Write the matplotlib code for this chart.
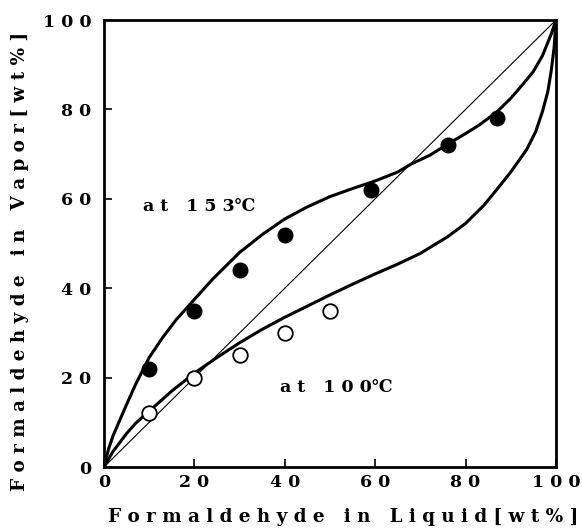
import matplotlib
matplotlib.use("Agg")
import matplotlib.pyplot as plt

plt.rcParams['font.family'] = ['DejaVu Serif']
plt.rcParams['font.weight'] = 'bold'

# measured points
liq_153 = [10, 20, 30, 40, 59, 76, 87]
vap_153 = [22, 35, 44, 52, 62, 72, 78]
liq_100 = [10, 20, 30, 40, 50]
vap_100 = [12, 20, 25, 30, 35]

# calculated curves
curve_153_x = [0, 1, 2, 3.5, 5, 7, 10, 13, 16, 20, 24, 27, 30, 35, 40, 45, 50, 55, 60, 65, 68, 72, 76, 80, 83, 87, 90, 93, 95, 97, 99, 100]
curve_153_y = [0, 4, 7, 10.5, 14, 18.5, 24.5, 29, 33, 37.5, 42, 45, 48, 52, 55.5, 58.2, 60.5, 62.3, 64, 66, 67.8, 69.7, 72.2, 74.6, 76.5, 79.5, 82.5, 86, 88.5, 92, 97, 100]
curve_100_x = [0, 2, 5, 7, 10, 15, 20, 25, 30, 35, 40, 45, 50, 55, 60, 65, 70, 76, 80, 84, 87, 90, 93.5, 95.5, 97, 98.2, 99, 99.6, 100]
curve_100_y = [0, 3.5, 7.5, 9.8, 12.5, 17, 21, 24.5, 27.8, 30.8, 33.5, 36, 38.5, 40.9, 43.2, 45.4, 47.8, 51.5, 54.5, 58.5, 62.2, 66, 71, 75, 79.5, 84, 89, 94, 100]

x_ticks = [0, 20, 40, 60, 80, 100]
y_ticks = [0, 20, 40, 60, 80, 100]


def spaced(s):
    return ' '.join(s)


fig = plt.figure(figsize=(5.82, 5.31), dpi=100)
ax = fig.add_axes([0.1787, 0.1205, 0.7766, 0.8418])

ax.plot([0, 100], [0, 100], color='black', lw=0.8)
ax.plot(curve_153_x, curve_153_y, color='black', lw=2.2, solid_joinstyle='round')
ax.plot(curve_100_x, curve_100_y, color='black', lw=2.2, solid_joinstyle='round')
ax.plot(liq_153, vap_153, 'o', color='black', ms=10.5, zorder=5)
ax.plot(liq_100, vap_100, 'o', mfc='white', mec='black', mew=1.3, ms=10.5, zorder=5)

ax.text(8.6, 58.2, spaced('at') + '   ' + spaced('153') + '℃', fontsize=12.5, fontweight='bold', va='center')
ax.text(39, 17.9, spaced('at') + '   ' + spaced('100') + '℃', fontsize=12.5, fontweight='bold', va='center')

ax.set_xlim(0, 100)
ax.set_ylim(0, 100)
ax.set_xticks(x_ticks)
ax.set_yticks(y_ticks)
ax.set_xticklabels([spaced(str(t)) for t in x_ticks])
ax.set_yticklabels([spaced(str(t)) for t in y_ticks])
ax.tick_params(direction='in', length=6, width=1.2, labelsize=12.5)
ax.tick_params(axis='x', pad=5)
ax.tick_params(axis='y', pad=9)
for s in ax.spines.values():
    s.set_linewidth(2)

ax.set_xlabel(spaced('Formaldehyde') + '   ' + spaced('in') + '   ' + spaced('Liquid') + ' ' + spaced('[wt%]'),
              fontsize=13.2, fontweight='bold', labelpad=12, x=0.53)
ax.set_ylabel(spaced('Formaldehyde') + '   ' + spaced('in') + '   ' + spaced('Vapor') + ' ' + spaced('[wt%]'),
              fontsize=13.2, fontweight='bold', labelpad=10, y=0.46)

fig.savefig('out.png', dpi=100)
